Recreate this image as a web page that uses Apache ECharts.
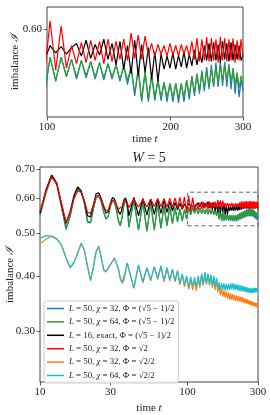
<!DOCTYPE html>
<html><head><meta charset="utf-8">
<script src="https://cdn.jsdelivr.net/npm/echarts@6/dist/echarts.min.js"></script>
<style>html,body{margin:0;padding:0;background:#fff}#c{width:270px;height:415px}</style>
</head><body><div id="c"></div>
<script>
// sample times (t)
const times = [
  10,11,12,13,14,15,16,17,18,19,20,21,22,23,24,25,26,27,28,29,30,31,32,33,34,35,36,37,38,39,
  40,43.25,46.5,49.75,53,56.25,59.5,62.75,66,69.25,72.5,75.75,79,82.25,85.5,88.75,92,95.25,98.5,
  101.75,105,108.25,111.5,114.75,118,121.25,124.5,127.75,131,134.25,137.5,140.75,144,147.25,150.5,
  153.75,157,160.25,163.5,166.75,170,173.25,176.5,179.75,183,186.25,189.5,192.75,196,199.25,202.5,
  205.75,209,212.25,215.5,218.75,222,225.25,228.5,231.75,235,238.25,241.5,244.75,248,251.25,254.5,
  257.75,261,264.25,267.5,270.75,274,277.25,280.5,283.75,287,290.25,293.5,296.75,300
];
const blueL50chi32 = [
  0.55,0.62,0.675,0.645,0.573,0.51,0.545,0.603,0.63,0.62,
  0.584,0.53,0.528,0.568,0.603,0.607,0.59,0.558,0.538,0.546,
  0.577,0.592,0.588,0.563,0.533,0.52,0.543,0.58,0.595,0.577,
  0.516,0.595,0.508,0.59,0.505,0.585,0.508,0.582,0.513,0.578,
  0.52,0.575,0.526,0.572,0.53,0.568,0.533,0.566,0.538,0.573,
  0.551,0.573,0.555,0.571,0.553,0.57,0.554,0.569,0.553,0.568,
  0.552,0.567,0.553,0.566,0.551,0.565,0.548,0.564,0.538,0.562,
  0.533,0.559,0.533,0.556,0.534,0.552,0.534,0.55,0.533,0.549,
  0.533,0.549,0.532,0.549,0.533,0.552,0.535,0.556,0.538,0.558,
  0.54,0.561,0.542,0.564,0.544,0.566,0.546,0.568,0.546,0.569,
  0.547,0.569,0.546,0.567,0.544,0.563,0.54,0.558,0.537,0.552,
  0.543
];
const greenL50chi64 = [
  0.55,0.62,0.675,0.645,0.575,0.515,0.548,0.605,0.63,0.62,
  0.585,0.532,0.53,0.57,0.603,0.607,0.59,0.56,0.54,0.548,
  0.578,0.592,0.588,0.565,0.535,0.522,0.545,0.58,0.595,0.578,
  0.518,0.595,0.51,0.59,0.507,0.585,0.51,0.582,0.515,0.578,
  0.522,0.575,0.528,0.572,0.532,0.568,0.535,0.566,0.54,0.573,
  0.552,0.573,0.556,0.571,0.555,0.57,0.556,0.569,0.555,0.568,
  0.554,0.567,0.555,0.566,0.553,0.565,0.552,0.564,0.54,0.562,
  0.535,0.56,0.536,0.557,0.537,0.552,0.537,0.55,0.537,0.549,
  0.537,0.549,0.536,0.549,0.537,0.552,0.539,0.555,0.541,0.557,
  0.543,0.559,0.545,0.561,0.546,0.562,0.548,0.564,0.549,0.566,
  0.551,0.566,0.552,0.565,0.551,0.562,0.548,0.559,0.545,0.556,
  0.549
];
const blackL16exact = [
  0.555,0.63,0.678,0.65,0.58,0.527,0.56,0.61,0.637,0.625,
  0.59,0.548,0.545,0.58,0.615,0.618,0.6,0.575,0.555,0.56,
  0.585,0.603,0.598,0.58,0.56,0.552,0.57,0.595,0.602,0.585,
  0.548,0.603,0.548,0.6,0.55,0.598,0.552,0.596,0.555,0.594,
  0.558,0.59,0.562,0.588,0.565,0.585,0.567,0.583,0.57,0.584,
  0.577,0.583,0.576,0.582,0.586,0.574,0.589,0.572,0.585,0.575,
  0.59,0.571,0.586,0.566,0.588,0.562,0.584,0.558,0.589,0.556,
  0.585,0.559,0.582,0.553,0.578,0.551,0.576,0.562,0.574,0.563,
  0.577,0.562,0.575,0.564,0.578,0.563,0.576,0.565,0.58,0.566,
  0.578,0.568,0.584,0.57,0.586,0.569,0.587,0.57,0.585,0.568,
  0.588,0.571,0.586,0.569,0.587,0.57,0.585,0.571,0.584,0.57,
  0.575
];
const redL50sqrt2 = [
  0.56,0.625,0.672,0.648,0.585,0.53,0.555,0.6,0.625,0.62,
  0.592,0.558,0.555,0.58,0.607,0.612,0.598,0.578,0.562,0.565,
  0.583,0.595,0.592,0.58,0.568,0.565,0.575,0.592,0.598,0.587,
  0.572,0.598,0.573,0.597,0.574,0.598,0.575,0.6,0.575,0.6,
  0.574,0.601,0.573,0.602,0.572,0.603,0.57,0.605,0.556,0.608,
  0.561,0.603,0.563,0.584,0.567,0.587,0.568,0.589,0.57,0.588,
  0.567,0.59,0.569,0.588,0.571,0.59,0.57,0.596,0.572,0.594,
  0.571,0.593,0.575,0.586,0.574,0.585,0.576,0.584,0.574,0.586,
  0.575,0.584,0.574,0.585,0.576,0.584,0.574,0.588,0.571,0.591,
  0.569,0.59,0.57,0.592,0.569,0.591,0.57,0.59,0.568,0.592,
  0.57,0.591,0.569,0.59,0.57,0.591,0.568,0.589,0.57,0.59,
  0.573
];
const orangeL50chi32 = [
  0.474,0.485,0.493,0.486,0.47,0.44,0.418,0.428,0.452,0.473,
  0.457,0.42,0.39,0.418,0.454,0.468,0.442,0.414,0.408,0.416,
  0.424,0.432,0.44,0.436,0.415,0.394,0.385,0.39,0.41,0.428,
  0.413,0.375,0.422,0.386,0.417,0.39,0.419,0.393,0.42,0.388,
  0.416,0.39,0.413,0.388,0.41,0.382,0.402,0.378,0.396,0.373,
  0.392,0.372,0.39,0.37,0.395,0.376,0.402,0.38,0.405,0.382,
  0.403,0.38,0.4,0.376,0.395,0.372,0.39,0.368,0.38,0.362,
  0.374,0.359,0.371,0.357,0.369,0.355,0.367,0.354,0.365,0.353,
  0.364,0.352,0.362,0.351,0.361,0.35,0.36,0.35,0.359,0.349,
  0.358,0.348,0.356,0.347,0.355,0.346,0.354,0.345,0.352,0.344,
  0.351,0.343,0.35,0.342,0.349,0.341,0.348,0.34,0.347,0.339,
  0.342
];
const cyanL50chi64 = [
  0.487,0.494,0.492,0.485,0.47,0.44,0.418,0.43,0.45,0.475,
  0.458,0.42,0.392,0.42,0.455,0.466,0.44,0.412,0.41,0.418,
  0.425,0.432,0.438,0.435,0.415,0.395,0.387,0.39,0.41,0.428,
  0.415,0.376,0.424,0.388,0.418,0.392,0.42,0.395,0.422,0.39,
  0.418,0.392,0.415,0.39,0.412,0.385,0.405,0.382,0.4,0.378,
  0.398,0.38,0.397,0.376,0.4,0.38,0.405,0.382,0.408,0.385,
  0.405,0.383,0.403,0.38,0.4,0.378,0.396,0.376,0.387,0.372,
  0.386,0.372,0.385,0.371,0.384,0.371,0.384,0.372,0.385,0.373,
  0.385,0.372,0.384,0.372,0.383,0.371,0.382,0.37,0.381,0.369,
  0.38,0.369,0.379,0.368,0.378,0.367,0.377,0.367,0.376,0.366,
  0.375,0.366,0.375,0.366,0.376,0.367,0.376,0.367,0.376,0.368,
  0.372
];
const seriesNames = [
  'L = 50, χ = 32, Φ = (√5 − 1)/2',
  'L = 50, χ = 64, Φ = (√5 − 1)/2',
  'L = 16, exact, Φ = (√5 − 1)/2',
  'L = 50, χ = 32, Φ = √2',
  'L = 50, χ = 32, Φ = √2/2',
  'L = 50, χ = 64, Φ = √2/2'
];
const seriesValues = [blueL50chi32, greenL50chi64, blackL16exact, redL50sqrt2, orangeL50chi32, cyanL50chi64];
const seriesColors = ['#1f77b4', '#2ca02c', '#000000', '#ff0000', '#ff7f0e', '#17becf'];
const insetSeries = [0, 1, 2, 3];
const mainXTicks = [10, 30, 100, 300];
const mainYTicks = [0.3, 0.4, 0.5, 0.6, 0.7];
const insetXTicks = [100, 200, 300];
const insetYTicks = [0.6];
const zoomBox = {t0: 100, t1: 300, y0: 0.52, y1: 0.62};

const F = 'Liberation Serif, DejaVu Serif, serif';
const TXT = '#222';
function pairs(v) { return times.map((t, i) => [t, v[i]]); }
const richI = {i: {fontStyle: 'italic', fontFamily: F, fontSize: 11, color: TXT}};

function xAxisCfg(grid, min, max, ticks, gap) {
  return {
    type: 'log', logBase: 10, gridIndex: grid, min: min, max: max,
    axisLine: {show: false}, splitLine: {show: false}, minorTick: {show: false},
    axisTick: {show: true, customValues: ticks, length: 3.5, lineStyle: {color: '#333', width: 0.8}},
    axisLabel: {customValues: ticks, formatter: v => String(Math.round(v)), fontFamily: F, fontSize: 11, color: TXT, margin: 5},
    name: 'time {i|t}', nameLocation: 'middle', nameGap: gap,
    nameTextStyle: {fontFamily: F, fontSize: 11, color: TXT, rich: richI}
  };
}
function yAxisCfg(grid, min, max, ticks) {
  return {
    type: 'log', logBase: 10, gridIndex: grid, min: min, max: max,
    axisLine: {show: false}, splitLine: {show: false}, minorTick: {show: false},
    axisTick: {show: true, customValues: ticks, length: 3.5, lineStyle: {color: '#333', width: 0.8}},
    axisLabel: {customValues: ticks, formatter: v => v.toFixed(2), fontFamily: F, fontSize: 11, color: TXT, margin: 5}
  };
}
function yName(x, y) {
  return {
    type: 'text', x: x, y: y, rotation: Math.PI / 2, z: 10,
    style: {text: 'imbalance {i|ℐ}', fontFamily: F, fontSize: 11, fill: TXT,
      align: 'center', verticalAlign: 'middle', rich: {i: {fontStyle: 'italic', fontFamily: F, fontSize: 11, fill: TXT}}}
  };
}

const series = [];
seriesValues.forEach((vals, i) => {
  const s = {
    name: seriesNames[i], type: 'line', xAxisIndex: 1, yAxisIndex: 1,
    data: pairs(vals), symbol: 'none', showSymbol: false, animation: false,
    lineStyle: {color: seriesColors[i], width: 1.2}, itemStyle: {color: seriesColors[i]}, z: 2 + i * 0.01
  };
  if (i === seriesValues.length - 1) {
    s.markArea = {
      silent: true,
      itemStyle: {color: 'rgba(0,0,0,0)', borderColor: '#666', borderWidth: 1, borderType: [4, 3]},
      data: [[{coord: [zoomBox.t0, zoomBox.y0]}, {coord: [zoomBox.t1, zoomBox.y1]}]]
    };
  }
  series.push(s);
});
insetSeries.forEach(i => {
  series.push({
    name: seriesNames[i], type: 'line', xAxisIndex: 0, yAxisIndex: 0,
    data: pairs(seriesValues[i]), symbol: 'none', showSymbol: false, animation: false,
    lineStyle: {color: seriesColors[i], width: 1.2}, itemStyle: {color: seriesColors[i]}, z: 2 + i * 0.01
  });
});

const chart = echarts.init(document.getElementById('c'), null, {renderer: 'canvas'});
chart.setOption({
  animation: false,
  backgroundColor: '#fff',
  title: {
    text: '{i|W} = 5', left: 149, top: 151, textAlign: 'center', padding: 0,
    textStyle: {fontFamily: F, fontSize: 14, fontWeight: 'normal', color: TXT,
      rich: {i: {fontStyle: 'italic', fontFamily: F, fontSize: 14, color: TXT}}}
  },
  grid: [
    {left: 47, top: 7, width: 196, height: 110, show: true, borderColor: '#444', borderWidth: 1,
      backgroundColor: 'transparent', containLabel: false, outerBoundsMode: 'none'},
    {left: 40, top: 167, width: 218, height: 215, show: true, borderColor: '#444', borderWidth: 1,
      backgroundColor: 'transparent', containLabel: false, outerBoundsMode: 'none'}
  ],
  xAxis: [
    xAxisCfg(0, 100, 300, insetXTicks, 14),
    xAxisCfg(1, 10, 300, mainXTicks, 17)
  ],
  yAxis: [
    yAxisCfg(0, 0.52, 0.6217, insetYTicks),
    yAxisCfg(1, 0.2297, 0.7073, mainYTicks)
  ],
  graphic: [yName(15, 62), yName(10, 275)],
  legend: {
    data: seriesNames, orient: 'vertical', left: 44, top: 301,
    padding: [3, 4, 3, 3], itemWidth: 17, itemHeight: 1.5, itemGap: 4.4, icon: 'rect',
    backgroundColor: 'rgba(255,255,255,0.85)', borderColor: '#cccccc', borderWidth: 1, borderRadius: 2,
    selectedMode: false,
    textStyle: {fontFamily: F, fontSize: 8.8, lineHeight: 8, color: TXT, padding: [0, 0, 0, 0],
      rich: {i: {fontStyle: 'italic', fontFamily: F, fontSize: 8.8, lineHeight: 8, color: TXT}}},
    formatter: n => n.replace(/^L/, '{i|L}').replace('χ', '{i|χ}')
  },
  series: series
});
</script></body></html>
